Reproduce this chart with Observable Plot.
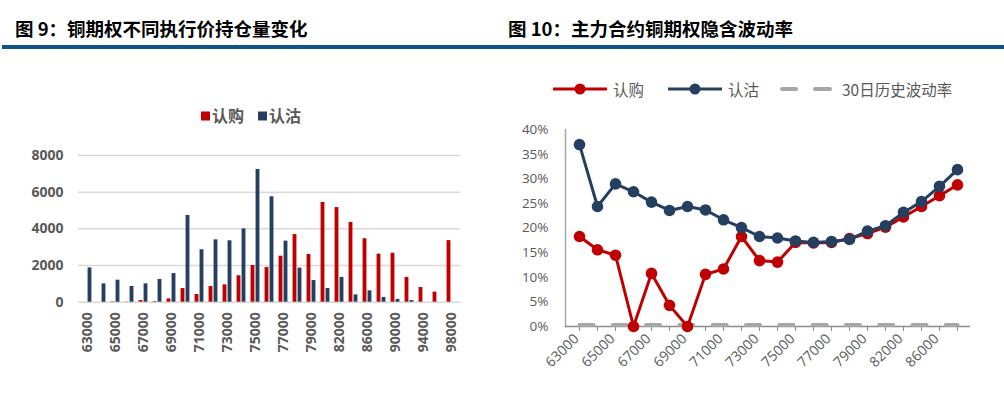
<!DOCTYPE html>
<html><head><meta charset="utf-8">
<script src="https://cdn.jsdelivr.net/npm/d3@7"></script>
<script src="https://cdn.jsdelivr.net/npm/@observablehq/plot@0.6"></script>
<style>
body{margin:0;background:#fff;font-family:"Noto Sans CJK SC","Noto Sans",sans-serif}
#wrap{position:relative;width:1004px;height:405px;overflow:hidden;background:#fff}
.title{position:absolute;top:17px;font-size:18.5px;line-height:22px;font-weight:bold;color:#000;white-space:nowrap}
.rule{position:absolute;left:2px;top:45px;width:1002px;height:4px;background:#0F5288}
.lg{position:absolute;white-space:nowrap;color:#595959;line-height:20px}
#left,#right{position:absolute}
#left{left:0;top:130px}
#right{left:500px;top:110px}
svg.ic{position:absolute;left:0;top:0;overflow:visible}
</style></head>
<body><div id="wrap">
<div class="title" style="left:15px">图 9：铜期权不同执行价持仓量变化</div>
<div class="title" style="left:508px">图 10：主力合约铜期权隐含波动率</div>
<div class="rule"></div>
<svg class="ic" width="1004" height="405">
  <rect x="201" y="111.5" width="9" height="9" fill="#C00000"/>
  <rect x="258" y="111.5" width="9" height="9" fill="#243F60"/>
  <line x1="553" y1="89" x2="607" y2="89" stroke="#C00000" stroke-width="3"/>
  <circle cx="580" cy="89" r="5.5" fill="#C00000"/>
  <line x1="668" y1="89" x2="722" y2="89" stroke="#243F60" stroke-width="3"/>
  <circle cx="695" cy="89" r="5.5" fill="#243F60"/>
  <line x1="782" y1="89" x2="796" y2="89" stroke="#A6A6A6" stroke-width="4" stroke-linecap="round"/>
  <line x1="815" y1="89" x2="830" y2="89" stroke="#A6A6A6" stroke-width="4" stroke-linecap="round"/>
</svg>
<div class="lg" style="left:212px;top:105px;font-size:16px;font-weight:bold">认购</div>
<div class="lg" style="left:269px;top:105px;font-size:16px;font-weight:bold">认沽</div>
<div class="lg" style="left:613px;top:79px;font-size:15.5px">认购</div>
<div class="lg" style="left:728px;top:79px;font-size:15.5px">认沽</div>
<div class="lg" style="left:842px;top:79px;font-size:15.5px">30日历史波动率</div>
<div id="left"></div>
<div id="right"></div>
</div>
<script>
// Left chart: open interest by strike
const strikesL = ["63000","64000","65000","66000","67000","68000","69000","70000","71000","72000","73000","74000","75000","76000","77000","78000","79000","80000","82000","84000","86000","88000","90000","92000","94000","96000","98000"];
const callOI = [0,0,20,10,90,30,180,745,420,855,945,1440,2000,1890,2510,3690,2600,5440,5160,4350,3460,2620,2670,1350,800,550,3360];
const putOI  = [1870,1000,1200,860,1000,1240,1560,4730,2860,3400,3350,4000,7240,5750,3330,1860,1180,750,1350,400,620,260,150,90,0,0,0];
const labelsL = ["63000","65000","67000","69000","71000","73000","75000","77000","79000","82000","86000","90000","94000","98000"];
const yTicksL = [0,2000,4000,6000,8000];

// Right chart: implied volatility by strike (%)
const strikesR = ["63000","64000","65000","66000","67000","68000","69000","70000","71000","72000","73000","74000","75000","76000","77000","78000","79000","80000","82000","84000","86000","88000"];
const ivCall = [18.3,15.6,14.5,0,10.8,4.3,0,10.6,11.7,18.3,13.4,13.1,17.1,17.0,17.1,17.9,18.9,20.2,22.3,24.4,26.6,28.8];
const ivPut  = [37.0,24.4,29.0,27.4,25.3,23.6,24.4,23.7,21.7,20.1,18.3,18.0,17.4,17.1,17.3,17.7,19.4,20.5,23.2,25.4,28.5,31.9];
const hv30   = [0.3,0.3,0.3,0.3,0.3,0.3,0.3,0.3,0.3,0.3,0.3,0.3,0.3,0.3,0.3,0.3,0.3,0.3,0.3,0.3,0.3,0.3];
const yTicksR = [0,5,10,15,20,25,30,35,40];

const RED = "#C00000", BLUE = "#243F60", GRAY = "#A6A6A6", TXT = "#595959";

const rowsL = strikesL.map((c,i)=>({c, call: callOI[i], put: putOI[i]}));
const bw = 4;
const inset = (382/27 - bw)/2;
const left = Plot.plot({
  width: 480, height: 275,
  marginLeft: 78, marginRight: 20, marginTop: 25, marginBottom: 103.3,
  style: {background: "transparent", fontFamily: "'Open Sans', sans-serif", color: TXT},
  x: {domain: strikesL, padding: 0, axis: null},
  y: {domain: [0, 8000], axis: null},
  marks: [
    Plot.gridY(yTicksL, {stroke: "#D9D9D9", strokeOpacity: 1, strokeWidth: 1.5}),
    Plot.axisY(yTicksL, {tickSize: 0, tickPadding: 15, fontSize: 14, fontWeight: "bold", fill: TXT, tickFormat: d => String(d), label: null}),
    Plot.barY(rowsL, {x: "c", y: "call", fill: RED, insetLeft: inset, insetRight: inset, dx: -2.5}),
    Plot.barY(rowsL, {x: "c", y: "put", fill: BLUE, insetLeft: inset, insetRight: inset, dx: 2.5}),
    Plot.axisX(labelsL, {tickSize: 0, tickPadding: 10, tickRotate: -90, fontSize: 14, fontWeight: "bold", fill: TXT, label: null})
  ]
});
document.getElementById("left").appendChild(left);

const rowsR = strikesR.map((c,i)=>({c, call: ivCall[i], put: ivPut[i], hv: hv30[i]}));
const right = Plot.plot({
  width: 504, height: 295,
  marginLeft: 65, marginRight: 34, marginTop: 19.3, marginBottom: 79,
  style: {background: "transparent", fontFamily: "'Open Sans', sans-serif", color: TXT},
  x: {domain: strikesR, type: "point", padding: 0.5, axis: null},
  y: {domain: [0, 40], axis: null},
  marks: [
    Plot.frame({anchor: "left", stroke: GRAY, strokeWidth: 1.5}),
    Plot.ruleY([0], {stroke: "#8C8C8C", strokeWidth: 1.5}),
    Plot.axisY(yTicksR, {tickSize: 0, tickPadding: 17, fontSize: 13.5, fill: TXT, tickFormat: d => d + "%", label: null}),
    Plot.axisX(strikesR, {tickSize: 5, stroke: "#8C8C8C", tickPadding: 0, tickRotate: -45, fontSize: 14, fill: TXT, label: null,
      tickFormat: () => ""}),
    Plot.axisX(labelsL.filter(d => strikesR.includes(d)), {tickSize: 0, tickPadding: 10, tickRotate: -45, fontSize: 14, fill: TXT, label: null, dx: -3}),
    Plot.line(rowsR, {x: "c", y: "hv", stroke: GRAY, strokeWidth: 4, strokeDasharray: "14,19.3", strokeLinecap: "round"}),
    Plot.line(rowsR, {x: "c", y: "call", stroke: RED, strokeWidth: 3}),
    Plot.dot(rowsR, {x: "c", y: "call", fill: RED, r: 5.8}),
    Plot.line(rowsR, {x: "c", y: "put", stroke: BLUE, strokeWidth: 3}),
    Plot.dot(rowsR, {x: "c", y: "put", fill: BLUE, r: 5.8})
  ]
});
document.getElementById("right").appendChild(right);
</script>
</body></html>
